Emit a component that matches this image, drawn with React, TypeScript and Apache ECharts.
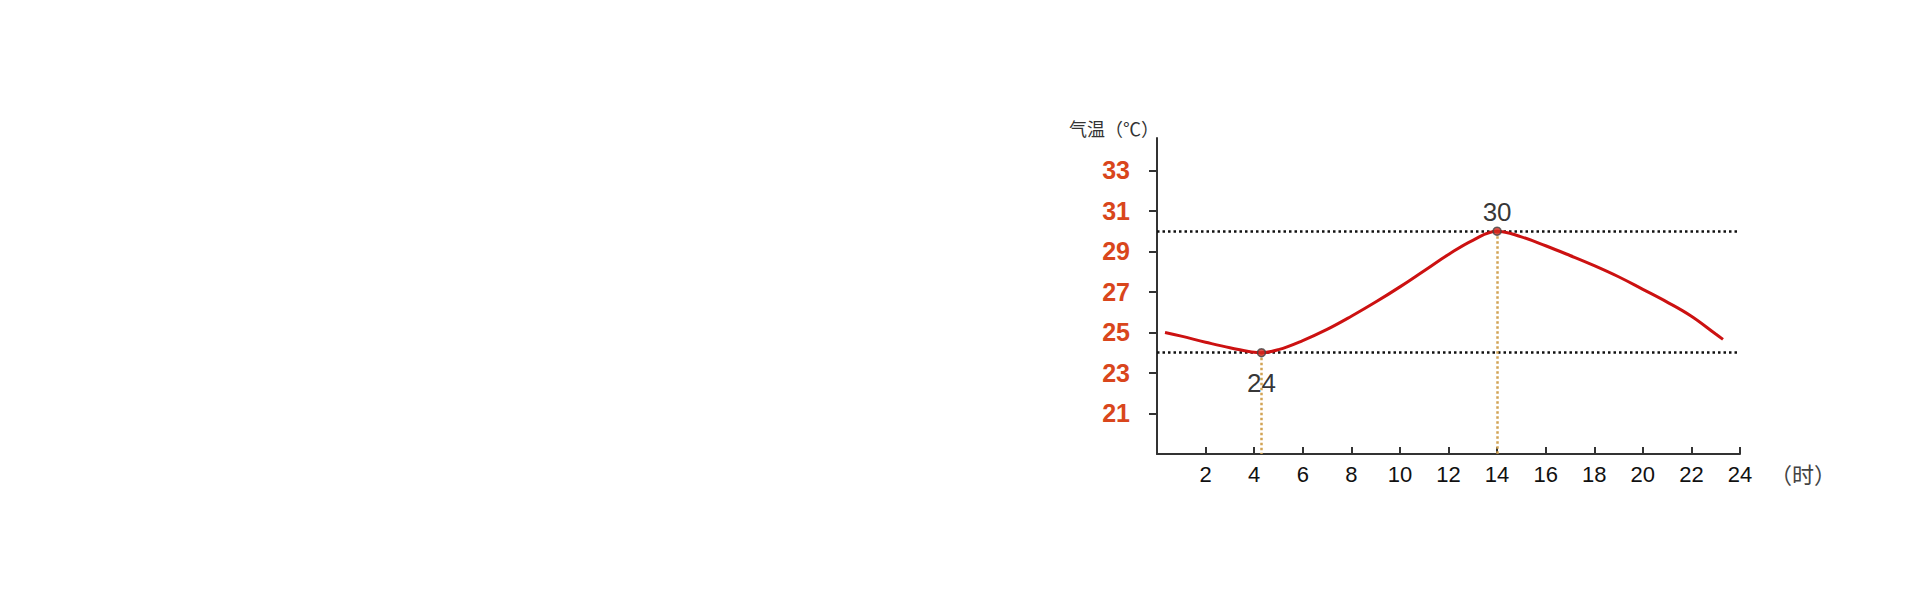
import React, { useEffect, useRef } from "react";
import * as echarts from "echarts";

// Hourly temperature readings over one day
const hours = [0.33, 1, 2, 3, 4.3, 5, 6, 7, 8, 9, 10, 11, 12, 13, 14, 15, 16, 17, 18, 19, 20, 21, 22, 23, 23.3];
const temps = [25.0, 24.82, 24.52, 24.25, 24.0, 24.15, 24.6, 25.15, 25.8, 26.5, 27.25, 28.05, 28.85, 29.55, 30.0, 29.72, 29.28, 28.8, 28.3, 27.75, 27.13, 26.5, 25.8, 24.92, 24.66];

// Daily extremes
const lowHour = 4.3;
const lowTemp = 24;
const highHour = 14;
const highTemp = 30;

// Axis ranges and ticks
const xMin = 0;
const xMax = 24;
const xTicks = [2, 4, 6, 8, 10, 12, 14, 16, 18, 20, 22, 24];
const yMin = 19;
const yMax = 34.6;
const yTicks = [21, 23, 25, 27, 29, 31, 33];

export default function App() {
  const ref = useRef<HTMLDivElement>(null);

  useEffect(() => {
    document.body.style.margin = "0";
    const chart = echarts.init(ref.current!, null, { renderer: "svg" });
    const axisColor = "#333";
    chart.setOption({
      animation: false,
      backgroundColor: "#ffffff",
      grid: { left: 1157, right: 180, top: 138, bottom: 146 },
      xAxis: {
        type: "value",
        min: xMin,
        max: xMax,
        interval: 2,
        name: "（时）",
        nameLocation: "end",
        nameGap: 30,
        nameTextStyle: {
          fontFamily: "Noto Sans CJK SC",
          fontSize: 22,
          color: "#444",
          verticalAlign: "top",
          padding: [8, 0, 0, 0],
        },
        axisLine: { show: true, lineStyle: { color: axisColor, width: 2 } },
        axisTick: { show: true, inside: true, length: 7, customValues: xTicks, lineStyle: { color: axisColor, width: 2 } },
        axisLabel: {
          customValues: xTicks,
          margin: 9,
          fontFamily: "Liberation Sans, Arial, sans-serif",
          fontSize: 22,
          color: "#111",
        },
        splitLine: { show: false },
      },
      yAxis: {
        type: "value",
        min: yMin,
        max: yMax,
        name: "气温（℃）",
        nameLocation: "end",
        nameGap: 1,
        nameTextStyle: {
          fontFamily: "Noto Sans CJK SC",
          fontSize: 18,
          color: "#333",
          align: "right",
          verticalAlign: "bottom",
          padding: [0, -2, 0, 0],
        },
        axisLine: { show: true, lineStyle: { color: axisColor, width: 2 } },
        axisTick: { show: true, inside: false, length: 8, customValues: yTicks, lineStyle: { color: axisColor, width: 2 } },
        axisLabel: {
          customValues: yTicks,
          margin: 27,
          fontFamily: "Liberation Sans, Arial, sans-serif",
          fontWeight: "bold",
          fontSize: 25,
          color: "#d9461c",
        },
        splitLine: { show: false },
      },
      series: [
        {
          type: "line",
          data: hours.map((h, i) => [h, temps[i]]),
          smooth: 0.4,
          showSymbol: false,
          lineStyle: { color: "#cc1111", width: 3 },
          z: 3,
          markLine: {
            silent: true,
            symbol: "none",
            label: { show: false },
            lineStyle: { color: "#111", width: 2.5, type: [2.5, 3] },
            data: [{ yAxis: highTemp }, { yAxis: lowTemp }],
            z: 2,
          },
        },
        {
          type: "scatter",
          data: [
            { value: [lowHour, lowTemp], label: { position: "bottom", distance: 13 } },
            { value: [highHour, highTemp], label: { position: "top", distance: 1 } },
          ],
          symbol: "circle",
          symbolSize: 8,
          itemStyle: { color: "#d42a20", borderColor: "#444", borderWidth: 1.5 },
          label: {
            show: true,
            formatter: (p: any) => String(p.value[1]),
            fontFamily: "Liberation Sans, Arial, sans-serif",
            fontSize: 26,
            color: "#000",
          },
          z: 4,
          markLine: {
            silent: true,
            symbol: "none",
            label: { show: false },
            lineStyle: { color: "#d2a455", width: 2.5, type: [2.5, 2.5] },
            data: [
              [{ coord: [lowHour, lowTemp] }, { coord: [lowHour, yMin] }],
              [{ coord: [highHour, highTemp] }, { coord: [highHour, yMin] }],
            ],
            z: 2,
          },
        },
      ],
    });
    return () => chart.dispose();
  }, []);

  return <div ref={ref} style={{ width: 1920, height: 600 }} />;
}
